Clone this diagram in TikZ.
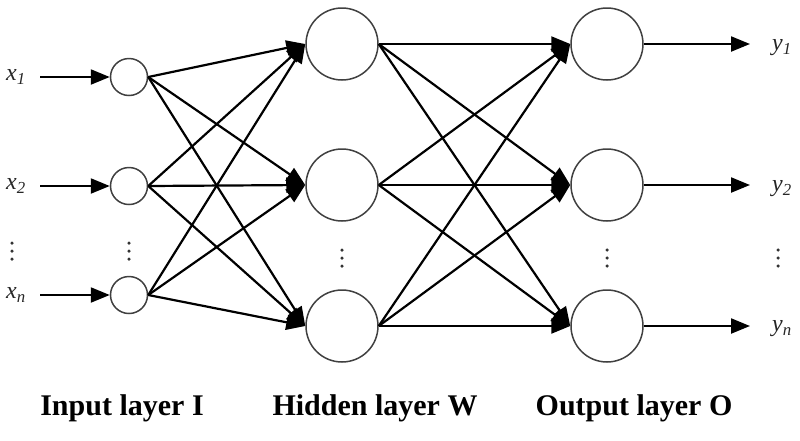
\documentclass[tikz,border=0pt]{standalone}
\usepackage{fontspec}
\setmainfont{Liberation Serif}
\usetikzlibrary{arrows.meta}
\begin{document}
\begin{tikzpicture}[x=1pt,y=-1pt,
  small/.style={circle,draw=black!75,line width=1.5pt,minimum size=37pt,inner sep=0pt},
  big/.style={circle,draw=black!75,line width=1.5pt,minimum size=72pt,inner sep=0pt},
  conn/.style={line width=2.2pt,-{Triangle[length=19pt,width=15pt]}},
  lab/.style={font=\fontsize{24}{24}\selectfont\itshape,inner sep=0pt,text=black!85},
  layer/.style={font=\fontsize{30}{30}\selectfont\bfseries,inner sep=0pt},
  dots/.style={circle,fill=black!80,inner sep=0pt,minimum size=3.5pt}]
\useasboundingbox (0,0) rectangle (800,440);
% input nodes
\node[small] (i1) at (129,77) {};
\node[small] (i2) at (129,186) {};
\node[small] (i3) at (129,295) {};
% hidden
\node[big] (h1) at (342,44) {};
\node[big] (h2) at (342,185) {};
\node[big] (h3) at (342,326) {};
% output
\node[big] (o1) at (607,44) {};
\node[big] (o2) at (607,185) {};
\node[big] (o3) at (607,326) {};
% input labels
\node[lab] (x1) at (16,77) {x\textsubscript{1}};
\node[lab] (x2) at (16,186) {x\textsubscript{2}};
\node[lab] (xn) at (16,295) {x\textsubscript{n}};
\coordinate (a1) at (40,77);
\coordinate (a2) at (40,186);
\coordinate (a3) at (40,295);
\draw[conn] (a1) -- (i1.west);
\draw[conn] (a2) -- (i2.west);
\draw[conn] (a3) -- (i3.west);
% connections
\foreach \i in {i1,i2,i3}{\foreach \h in {h1,h2,h3}{\draw[conn] (\i.east) -- (\h.west);}}
\foreach \h in {h1,h2,h3}{\foreach \o in {o1,o2,o3}{\draw[conn] (\h.east) -- (\o.west);}}
% outputs
\coordinate (b1) at (750,44);
\coordinate (b2) at (750,185);
\coordinate (b3) at (750,326);
\draw[conn] (o1.east) -- (b1);
\draw[conn] (o2.east) -- (b2);
\draw[conn] (o3.east) -- (b3);
\node[lab] (y1) at (782,48) {y\textsubscript{1}};
\node[lab] (y2) at (782,189) {y\textsubscript{2}};
\node[lab] (yn) at (782,329) {y\textsubscript{n}};
% dots
\foreach \x/\y/\n in {12/243/a,129/243/b,342/250/c,607/250/d,778/250/e}{
  \node[dots] (d\n1) at (\x,\y) {};
  \node[dots] (d\n2) at (\x,\y+8) {};
  \node[dots] (d\n3) at (\x,\y+16) {};}
% layer labels
\node[layer] (L1) at (122,408) {Input layer I};
\node[layer] (L2) at (375,408) {Hidden layer W};
\node[layer] (L3) at (634,408) {Output layer O};
\end{tikzpicture}
\end{document}
